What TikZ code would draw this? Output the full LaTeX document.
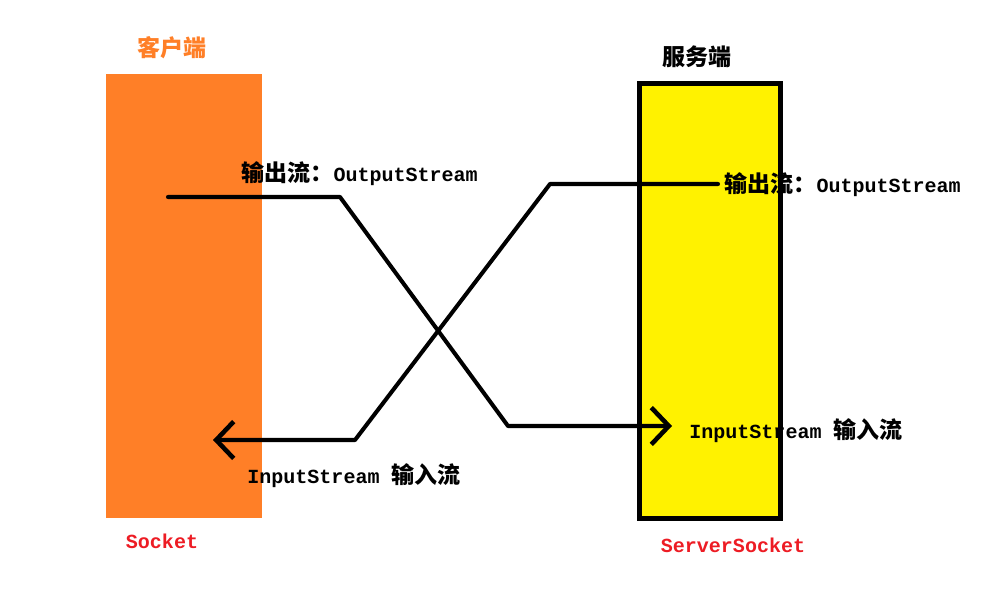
\documentclass[tikz,border=0pt]{standalone}
\usepackage{fontspec}
\setmonofont{Liberation Mono}
\newfontfamily\cjk[Scale=1.15]{Noto Sans CJK SC}
\usepackage{xcolor}
\usetikzlibrary{arrows.meta}
\definecolor{clientorange}{HTML}{FF7F27}
\definecolor{serveryellow}{HTML}{FFF200}
\definecolor{labelred}{HTML}{ED1C24}
\tikzset{
    flow/.style={line width=2.3pt, line join=round, line cap=round,
        -{Straight Barb[length=10pt,width=21pt,line width=2.6pt]}},
    tag/.style={font=\fontsize{11.4}{13}\selectfont\bfseries, inner sep=0pt},
    streamtag/.style={font=\fontsize{11.4}{13}\selectfont, inner sep=0pt, anchor=west}
}
\begin{document}
\begin{tikzpicture}
    \useasboundingbox (0,0) rectangle (19.86,12);
% Client side
    \node[fill=clientorange, minimum width=3.12cm, minimum height=8.88cm, inner sep=0pt] (client) at (3.68,6.08) {};
    \node[tag, text=clientorange] (clienttitle) at (3.44,11.04) {\cjk 客户端};
    \node[tag, text=labelred] (clientname) at (3.24,1.18) {\ttfamily Socket};
% Server side
    \node[draw, line width=2.85pt, fill=serveryellow, minimum width=2.82cm, minimum height=8.70cm, inner sep=0pt] (server) at (14.2,5.98) {};
    \node[tag] (servertitle) at (13.94,10.86) {\cjk 服务端};
    \node[tag, text=labelred] (servername) at (14.66,1.10) {\ttfamily ServerSocket};
% Streams
    \coordinate (cout) at (3.36,8.06);
    \coordinate (cin) at (4.26,3.20);
    \coordinate (sout) at (14.36,8.32);
    \coordinate (sin) at (13.44,3.48);
    \draw[flow] (cout) -- (6.80,8.06) -- (10.16,3.48) -- (sin);
    \draw[flow] (sout) -- (11.0,8.32) -- (7.10,3.20) -- (cin);
    \node[streamtag] (coutlabel) at (4.82,8.52) {{\cjk\bfseries 输出流：}\ttfamily\bfseries OutputStream};
    \node[streamtag] (soutlabel) at (14.48,8.30) {{\cjk\bfseries 输出流：}\ttfamily\bfseries OutputStream};
    \node[streamtag] (sinlabel) at (13.78,3.38) {\ttfamily\bfseries InputStream {\cjk 输入流}};
    \node[streamtag] (cinlabel) at (4.94,2.48) {\ttfamily\bfseries InputStream {\cjk 输入流}};
\end{tikzpicture}
\end{document}
